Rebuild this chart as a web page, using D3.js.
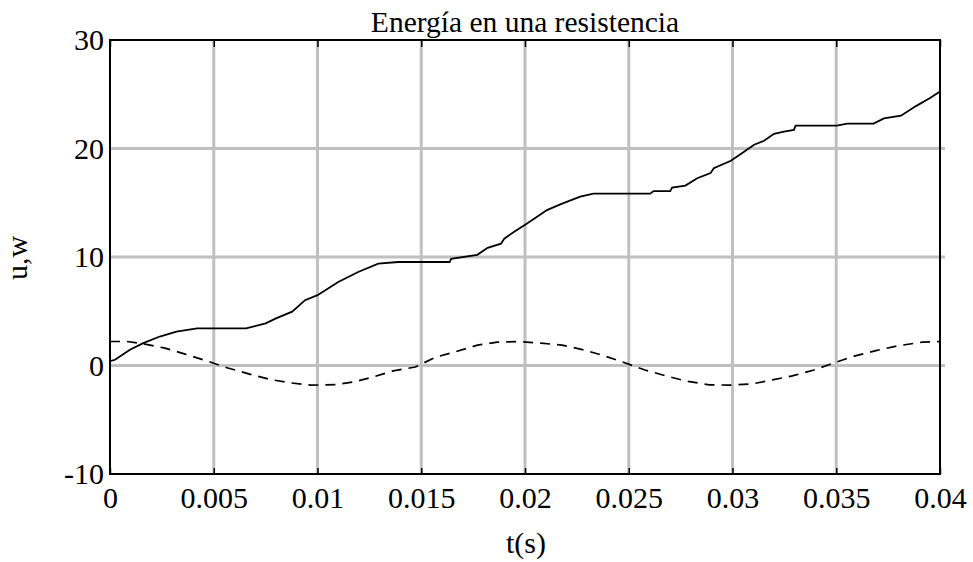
<!DOCTYPE html>
<html>
<head>
<meta charset="utf-8">
<script src="https://cdn.jsdelivr.net/npm/d3@7"></script>
<style>
  body { margin: 0; background: #fff; }
  svg { display: block; }
  text { font-family: "Liberation Serif", "Times New Roman", serif; fill: #000; }
</style>
</head>
<body>
<div id="plot"></div>
<script>
// tiempo (s) y energia acumulada w
var wTime = [0, 0.00024, 0.00096, 0.0016, 0.0024, 0.0032, 0.0042, 0.00656, 0.0075, 0.0080, 0.00878,
  0.0094, 0.0100, 0.0110, 0.01196, 0.01293, 0.01389, 0.0151, 0.01637, 0.01644, 0.0177, 0.0182,
  0.01884, 0.0190, 0.01946, 0.0201, 0.02106, 0.0217, 0.02266, 0.0233, 0.02603, 0.0262, 0.0270,
  0.02709, 0.02773, 0.0283, 0.02894, 0.0291, 0.02992, 0.0304, 0.03104, 0.03152, 0.0320, 0.03248,
  0.03296, 0.03304, 0.03503, 0.03553, 0.0368, 0.0373, 0.03812, 0.03886, 0.03952, 0.0400];
var wValues = [0.4, 0.53, 1.45, 2.06, 2.67, 3.13, 3.43, 3.43, 3.88, 4.34, 4.96,
  6.02, 6.48, 7.70, 8.62, 9.38, 9.54, 9.54, 9.54, 9.84, 10.2, 10.85,
  11.23, 11.69, 12.31, 13.08, 14.32, 14.85, 15.56, 15.84, 15.84, 16.08, 16.08,
  16.4, 16.58, 17.26, 17.73, 18.19, 18.87, 19.49, 20.35, 20.71, 21.35, 21.56,
  21.71, 22.11, 22.11, 22.29, 22.29, 22.77, 23.02, 23.93, 24.65, 25.25];

// tiempo (s) y tension u
var uTime = [0, 0.00082, 0.00169, 0.00265, 0.00362, 0.00468, 0.00568, 0.00681, 0.00776, 0.0087,
  0.0097, 0.0109, 0.01177, 0.01268, 0.01365, 0.01471, 0.01571, 0.01667, 0.01771, 0.01867,
  0.01971, 0.02077, 0.02178, 0.02288, 0.02385, 0.02471, 0.02578, 0.0268, 0.02772, 0.02888,
  0.0299, 0.03096, 0.03192, 0.03288, 0.03393, 0.03494, 0.03587, 0.03691, 0.03801, 0.03915, 0.0400];
var uValues = [2.21, 2.21, 1.97, 1.60, 1.05, 0.41, -0.23, -0.84, -1.30, -1.60,
  -1.81, -1.76, -1.51, -1.05, -0.50, -0.14, 0.78, 1.28, 1.88, 2.15,
  2.21, 2.06, 1.88, 1.42, 0.87, 0.32, -0.41, -0.96, -1.42, -1.78,
  -1.81, -1.69, -1.33, -0.96, -0.41, 0.27, 0.87, 1.37, 1.83, 2.15, 2.21];

var xTicks = [0, 0.005, 0.01, 0.015, 0.02, 0.025, 0.03, 0.035, 0.04];
var xTickLabels = ["0", "0.005", "0.01", "0.015", "0.02", "0.025", "0.03", "0.035", "0.04"];
var yTicks = [-10, 0, 10, 20, 30];
var yTickLabels = ["-10", "0", "10", "20", "30"];

var chartTitle = "Energía en una resistencia";
var xLabel = "t(s)";
var yLabel = "u,w";

var W = 973, H = 562;
var mLeft = 110, mRight = 940, mTop = 40, mBottom = 474;

var svg = d3.select("#plot").append("svg")
  .attr("width", W)
  .attr("height", H);

var x = d3.scaleLinear().domain([0, 0.04]).range([mLeft, mRight]);
var y = d3.scaleLinear().domain([-10, 30]).range([mBottom, mTop]);

// grid
var grid = svg.append("g").attr("stroke", "#c0c0c0").attr("stroke-width", 3);
grid.selectAll(".vg")
  .data(xTicks.slice(1, -1))
  .enter().append("line")
  .attr("x1", function (d) { return x(d); })
  .attr("x2", function (d) { return x(d); })
  .attr("y1", mTop + 1)
  .attr("y2", mBottom - 1);
grid.selectAll(".hg")
  .data(yTicks.slice(1, -1))
  .enter().append("line")
  .attr("x1", mLeft + 1)
  .attr("x2", mRight + 5)
  .attr("y1", function (d) { return y(d); })
  .attr("y2", function (d) { return y(d); });

// curvas
var wData = wTime.map(function (t, i) { return [t, wValues[i]]; });
var uData = uTime.map(function (t, i) { return [t, uValues[i]]; });

var line = d3.line()
  .x(function (d) { return x(d[0]); })
  .y(function (d) { return y(d[1]); });

svg.append("path")
  .datum(uData)
  .attr("d", line)
  .attr("fill", "none")
  .attr("stroke", "#000")
  .attr("stroke-width", 1.7)
  .attr("stroke-dasharray", "10,7");

svg.append("path")
  .datum(wData)
  .attr("d", line)
  .attr("fill", "none")
  .attr("stroke", "#000")
  .attr("stroke-width", 1.8);

// ejes
var xAxis = svg.append("g")
  .attr("transform", "translate(0," + mBottom + ")")
  .call(d3.axisBottom(x)
    .tickValues(xTicks)
    .tickFormat(function (d, i) { return xTickLabels[i]; })
    .tickSizeInner(-6)
    .tickSizeOuter(0)
    .tickPadding(13));

var yAxis = svg.append("g")
  .attr("transform", "translate(" + mLeft + ",0)")
  .call(d3.axisLeft(y)
    .tickValues(yTicks)
    .tickFormat(function (d, i) { return yTickLabels[i]; })
    .tickSizeInner(0)
    .tickSizeOuter(0)
    .tickPadding(6));

svg.append("g")
  .attr("transform", "translate(0," + mTop + ")")
  .call(d3.axisTop(x)
    .tickValues(xTicks)
    .tickFormat("")
    .tickSizeInner(-7)
    .tickSizeOuter(0));

[xAxis, yAxis].forEach(function (a) {
  a.attr("font-family", "Liberation Serif").attr("font-size", 30);
  a.selectAll("text").attr("fill", "#000");
});
svg.selectAll(".domain").remove();
svg.selectAll(".tick line").attr("stroke", "#000").attr("stroke-width", 1.5);

svg.append("rect")
  .attr("x", mLeft)
  .attr("y", mTop)
  .attr("width", mRight - mLeft)
  .attr("height", mBottom - mTop)
  .attr("fill", "none")
  .attr("stroke", "#000")
  .attr("stroke-width", 2);

// textos
svg.append("text")
  .attr("x", (mLeft + mRight) / 2)
  .attr("y", 32)
  .attr("text-anchor", "middle")
  .attr("font-size", 29.5)
  .text(chartTitle);

svg.append("text")
  .attr("x", (mLeft + mRight) / 2 + 1)
  .attr("y", 553)
  .attr("text-anchor", "middle")
  .attr("font-size", 30)
  .text(xLabel);

svg.append("text")
  .attr("transform", "translate(27," + ((mTop + mBottom) / 2 + 1) + ") rotate(-90)")
  .attr("text-anchor", "middle")
  .attr("font-size", 30)
  .text(yLabel);
</script>
</body>
</html>
